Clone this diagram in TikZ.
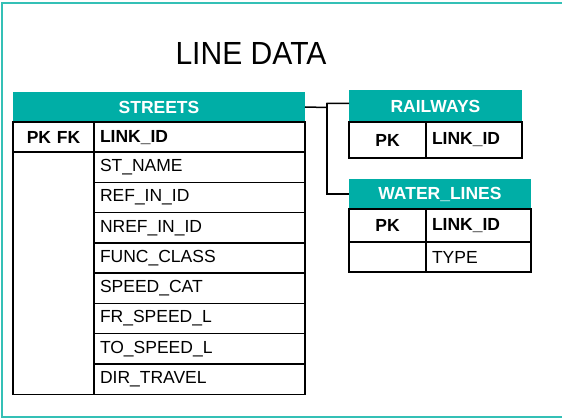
\documentclass[tikz,border=0pt]{standalone}
\usepackage{fontspec}
\setmainfont{Liberation Sans}
\usepackage{graphicx}
\usetikzlibrary{positioning}

\definecolor{tealhead}{RGB}{0,174,166}
\definecolor{tealframe}{RGB}{52,192,182}

\begin{document}
\begin{tikzpicture}[x=1pt,y=-1pt,
	head/.style={fill=tealhead,text=white,anchor=north west,inner sep=0pt,outer sep=0pt,
		font=\fontsize{17.5}{20}\selectfont\bfseries},
	cell/.style={draw=black,line width=1.5pt,anchor=north west,inner xsep=6pt,inner ysep=0pt,
		outer sep=0pt,align=left,font=\fontsize{17.5}{20}\selectfont},
	keycell/.style={cell,align=center},
	link/.style={draw=black,line width=1.5pt}]

	\useasboundingbox (0,0) rectangle (562,419);
	\draw[tealframe,line width=2pt] (2,3) rectangle (580,417);

	\node[anchor=base,font=\fontsize{32}{36}\selectfont] (title) at (251,65) {\scalebox{0.94}[1]{LINE DATA}};

	% streets
	\node[head,minimum width=292pt,minimum height=30pt] (streets) at (13,92) {STREETS};
	\begin{scope}[every node/.style={cell,text width=199pt,minimum height=30.25pt}]
		\node (sf1) at (94,122) {\bfseries LINK\_ID};
		\node[below=0pt of sf1] (sf2) {ST\_NAME};
		\node[below=0pt of sf2] (sf3) {REF\_IN\_ID};
		\node[below=0pt of sf3] (sf4) {NREF\_IN\_ID};
		\node[below=0pt of sf4] (sf5) {FUNC\_CLASS};
		\node[below=0pt of sf5] (sf6) {SPEED\_CAT};
		\node[below=0pt of sf6] (sf7) {FR\_SPEED\_L};
		\node[below=0pt of sf7] (sf8) {TO\_SPEED\_L};
		\node[below=0pt of sf8] (sf9) {DIR\_TRAVEL};
	\end{scope}
	\node[keycell,text width=69pt,minimum height=30.25pt,font=\fontsize{17.5}{20}\selectfont\bfseries] (sk1) at (13,122) {PK FK};
	\node[keycell,text width=69pt,minimum height=242pt] (sk2) at (13,152.25) {};

	% railways
	\node[head,minimum width=173pt,minimum height=32pt] (railways) at (349,90) {RAILWAYS};
	\node[keycell,text width=65pt,minimum height=36pt,font=\fontsize{17.5}{20}\selectfont\bfseries] (rk1) at (349,122) {PK};
	\node[cell,text width=84pt,minimum height=36pt] (rf1) at (426,122) {\bfseries LINK\_ID};

	% water lines
	\node[head,minimum width=182pt,minimum height=30pt] (water) at (349,179) {WATER\_LINES};
	\node[keycell,text width=65pt,minimum height=33pt,font=\fontsize{17.5}{20}\selectfont\bfseries] (wk1) at (349,209) {PK};
	\node[cell,text width=93pt,minimum height=33pt] (wf1) at (426,209) {\bfseries LINK\_ID};
	\node[keycell,text width=65pt,minimum height=30pt] (wk2) at (349,242) {};
	\node[cell,text width=93pt,minimum height=30pt] (wf2) at (426,242) {TYPE};

	% connectors
	\coordinate (jA) at (327,107.5);
	\coordinate (jB) at (327,103.5);
	\draw[link] (streets.east) -- (jA) -- (jB) -- (railways.west |- jB);
	\draw[link] (jB) |- (water.west);
\end{tikzpicture}
\end{document}
